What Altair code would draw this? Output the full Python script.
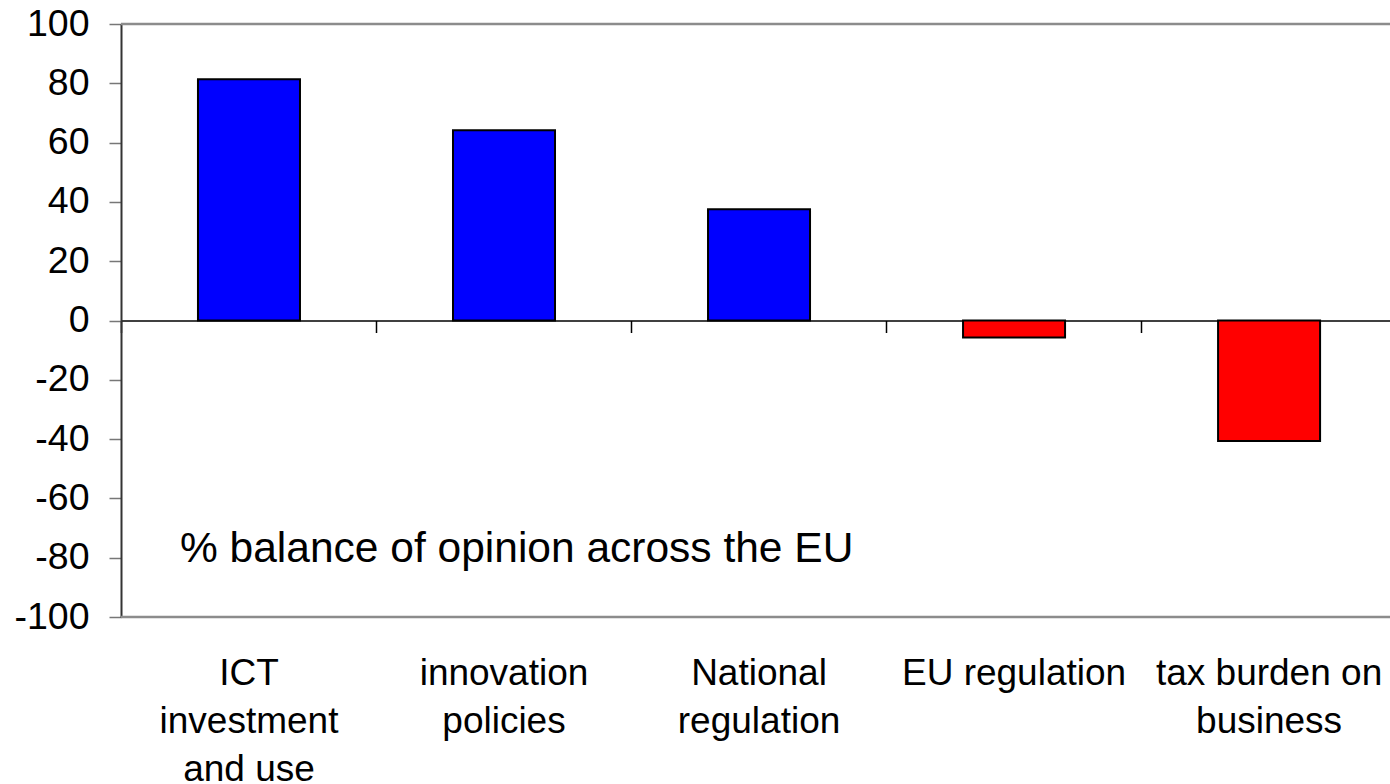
import altair as alt
import pandas as pd

# Survey factors (line breaks mark how each axis label wraps)
categories = [
    "ICT\ninvestment\nand use",
    "innovation\npolicies",
    "National\nregulation",
    "EU regulation",
    "tax burden on\nbusiness",
]
balance = [81.4, 64.2, 37.5, -5.7, -40.6]
y_ticks = [-100, -80, -60, -40, -20, 0, 20, 40, 60, 80, 100]
frame_levels = [100, -100]
note_text = ["% balance of opinion across the EU"]
note_level = [-81.4]

FONT = "Liberation Sans"

bars_df = pd.DataFrame({"factor": categories, "balance": balance})
frame_df = pd.DataFrame({"level": frame_levels})
note_df = pd.DataFrame({"note": note_text, "level": note_level})

x_enc = alt.X(
    "factor:N",
    sort=categories,
    title=None,
    scale=alt.Scale(paddingInner=0.6, paddingOuter=0.288, align=0.524),
    axis=alt.Axis(
        orient="bottom",
        offset=-296.5,
        domainColor="black",
        domainWidth=1.5,
        tickColor="black",
        tickWidth=1.5,
        tickSize=12,
        # ticks sit midway in the gaps between neighbouring bars
        bandPosition=-0.75,
        labelAngle=0,
        labelAlign="center",
        labelBaseline="alphabetic",
        labelFont=FONT,
        labelFontSize=37,
        labelColor="black",
        labelPadding=351.5,
        labelLineHeight=48,
        labelOverlap=False,
        labelLimit=500,
        labelExpr="split(datum.label, '\\n')",
    ),
)

y_scale = alt.Scale(domain=[-100, 100], nice=False, zero=False)
y_axis = alt.Axis(
    values=y_ticks,
    grid=False,
    domainColor="#333333",
    domainWidth=2,
    tickColor="#777777",
    tickWidth=1.5,
    tickSize=12,
    labelFont=FONT,
    labelFontSize=37.5,
    labelColor="black",
    labelPadding=20,
    labelExpr="'' + datum.value",
)

bars = (
    alt.Chart(bars_df)
    .mark_bar(stroke="black", strokeWidth=2)
    .encode(
        x=x_enc,
        y=alt.Y("balance:Q", title=None, scale=y_scale, axis=y_axis),
        color=alt.condition(
            alt.datum.balance > 0, alt.value("#0000ff"), alt.value("#ff0000")
        ),
    )
)

frame = (
    alt.Chart(frame_df)
    .mark_rule(color="#8c8c8c", strokeWidth=2.3)
    .encode(y=alt.Y("level:Q", title=None, scale=y_scale, axis=y_axis))
)

note = (
    alt.Chart(note_df)
    .mark_text(align="left", baseline="alphabetic", font=FONT, fontSize=42.5, color="black")
    .encode(
        x=alt.value(59),
        y=alt.Y("level:Q", title=None, scale=y_scale, axis=y_axis),
        text="note:N",
    )
)

chart = (
    alt.layer(frame, bars, note)
    .properties(
        width=1269,
        height=593,
        autosize=alt.AutoSizeParams(type="none"),
        padding={"left": 121, "top": 24, "right": 0, "bottom": 167},
        background="white",
    )
    .configure_view(stroke=None)
)

chart.save("out.html", embed_options={"renderer": "svg", "actions": False})
